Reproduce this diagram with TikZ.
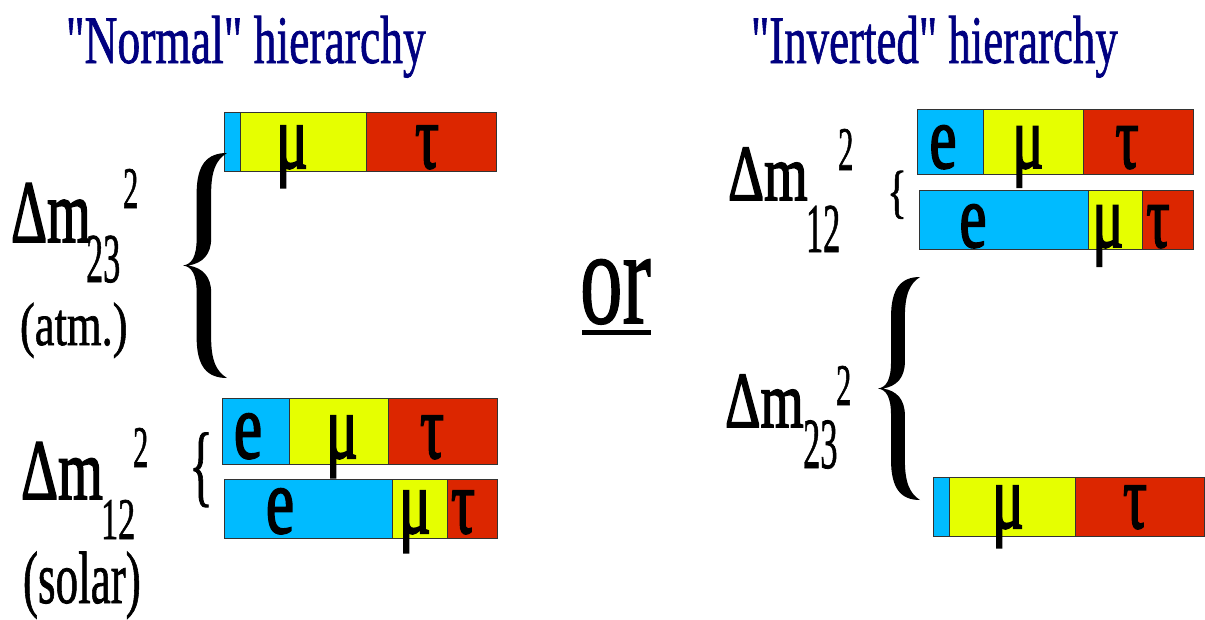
\documentclass[tikz,border=0pt]{standalone}
\usepackage{fontspec}
\setmainfont{Liberation Serif}[Ligatures=TeXOff]
\newfontfamily\heavy{Liberation Serif}[Ligatures=TeXOff, FakeBold=2.2]
\newfontfamily\medium{Liberation Serif}[Ligatures=TeXOff, FakeBold=1.2]
\usepackage{graphicx}
\definecolor{cblue}{RGB}{0,187,255}
\definecolor{cyel}{RGB}{230,255,0}
\definecolor{cred}{RGB}{220,38,0}
\definecolor{navy}{RGB}{0,0,128}
\newcommand\T[3]{{\heavy\fontsize{#1}{#1}\selectfont\scalebox{#2}[1]{#3}}}
\newcommand\Tm[3]{{\medium\fontsize{#1}{#1}\selectfont\scalebox{#2}[1]{#3}}}
\newcommand\barrow[6]{%
  \fill[cblue] (#3,#1) rectangle (#4,#2);
  \fill[cyel] (#4,#1) rectangle (#5,#2);
  \fill[cred] (#5,#1) rectangle (#6,#2);
  \draw[seg] (#3,#1) rectangle (#6,#2);
  \draw[seg] (#4,#1) -- (#4,#2);
  \draw[seg] (#5,#1) -- (#5,#2);}
\newcommand\curlybrace[4]{%
  \begin{scope}[shift={(#1,#2)}, xscale=#3, yscale=#4]
  \fill[black] (1,0) .. controls (0.55,0.0) and (0.31,0.05) .. (0.31,0.18)
    -- (0.31,0.38) .. controls (0.31,0.46) and (0.2,0.495) .. (0,0.5)
    .. controls (0.2,0.505) and (0.31,0.54) .. (0.31,0.62)
    -- (0.31,0.82) .. controls (0.31,0.95) and (0.55,1.0) .. (1,1)
    .. controls (0.75,0.97) and (0.64,0.92) .. (0.64,0.82)
    -- (0.64,0.62) .. controls (0.64,0.55) and (0.45,0.51) .. (0.12,0.5)
    .. controls (0.45,0.49) and (0.64,0.45) .. (0.64,0.38)
    -- (0.64,0.18) .. controls (0.64,0.08) and (0.75,0.03) .. (1,0) -- cycle;
  \end{scope}}
\tikzset{
  seg/.style={draw=black!80, line width=0.8pt},
  lbl/.style={inner sep=0pt, outer sep=0pt, anchor=base west},
  letter/.style={inner sep=0pt, outer sep=0pt, anchor=base},
  title/.style={lbl, text=navy}
}
\begin{document}
\begin{tikzpicture}[x=1pt,y=-1pt]
\useasboundingbox (0,0) rectangle (1205,619);

% titles
\node[title] (tn) at (66,63) {\Tm{68}{0.67}{"Normal" hierarchy}};
\node[title] (ti) at (751,63) {\Tm{68}{0.66}{"Inverted" hierarchy}};

% or
\node[lbl] (or) at (580,323) {\Tm{135}{0.63}{or}};
\coordinate (ul1) at (582,332);
\coordinate (ul2) at (651,332);
\draw[line width=5pt] (ul1) -- (ul2);

% ---------- Normal hierarchy ----------
\barrow{112}{171}{224}{240}{366}{496}
\node[letter] (nmu0) at (292,168) {\T{92}{0.65}{μ}};
\node[letter] (ntau0) at (427,168) {\T{92}{0.65}{τ}};

\barrow{398}{464}{222}{289}{388}{497}
\node[letter] (ne1) at (248,458) {\T{94}{0.68}{e}};
\node[letter] (nmu1) at (342,458) {\T{92}{0.65}{μ}};
\node[letter] (ntau1) at (432,458) {\T{92}{0.65}{τ}};

\barrow{479}{538}{224}{392}{447}{497}
\node[letter] (ne2) at (280,533) {\T{94}{0.68}{e}};
\node[letter] (nmu2) at (415,533) {\T{92}{0.65}{μ}};
\node[letter] (ntau2) at (463,533) {\T{92}{0.65}{τ}};

\curlybrace{183}{153}{44}{225}
\node[letter] (nbr) at (201,495) {\Tm{90}{0.55}{\{}};

\node[lbl] (ndm23) at (11,242) {\T{89}{0.63}{Δm}};
\node[lbl] (nsub23) at (86,282) {\Tm{70}{0.49}{23}};
\node[lbl] (nsup23) at (123,208) {\Tm{59}{0.52}{2}};
\node[lbl] (natm) at (20,345) {\Tm{61}{0.73}{(atm.)}};

\node[lbl] (ndm12) at (21,499) {\T{86}{0.67}{Δm}};
\node[lbl] (nsub12) at (101,539) {\Tm{59}{0.58}{12}};
\node[lbl] (nsup12) at (133,467) {\Tm{59}{0.52}{2}};
\node[lbl] (nsolar) at (23,603) {\Tm{74}{0.61}{(solar)}};

% ---------- Inverted hierarchy ----------
\barrow{109}{174}{917}{983}{1083}{1193}
\node[letter] (ie1) at (943,168) {\T{90}{0.68}{e}};
\node[letter] (imu1) at (1028,168) {\T{90}{0.65}{μ}};
\node[letter] (itau1) at (1127,168) {\T{90}{0.65}{τ}};

\barrow{190}{249}{919}{1088}{1142}{1193}
\node[letter] (ie2) at (973,247) {\T{90}{0.68}{e}};
\node[letter] (imu2) at (1108,247) {\T{90}{0.65}{μ}};
\node[letter] (itau2) at (1158,247) {\T{90}{0.65}{τ}};

\barrow{477}{536}{933}{949}{1075}{1204}
\node[letter] (imu0) at (1008,528) {\T{92}{0.65}{μ}};
\node[letter] (itau0) at (1135,528) {\T{92}{0.65}{τ}};

\node[letter] (ibr) at (897,211) {\Tm{58}{0.7}{\{}};
\curlybrace{878}{277}{42}{223}

\node[lbl] (idm12) at (728,200) {\T{79}{0.71}{Δm}};
\node[lbl] (isub12) at (806,252) {\Tm{70}{0.49}{12}};
\node[lbl] (isup12) at (838,170) {\Tm{62}{0.5}{2}};

\node[lbl] (idm23) at (725,427) {\T{79}{0.7}{Δm}};
\node[lbl] (isub23) at (803,468) {\Tm{72}{0.48}{23}};
\node[lbl] (isup23) at (836,405) {\Tm{59}{0.52}{2}};
\end{tikzpicture}
\end{document}
